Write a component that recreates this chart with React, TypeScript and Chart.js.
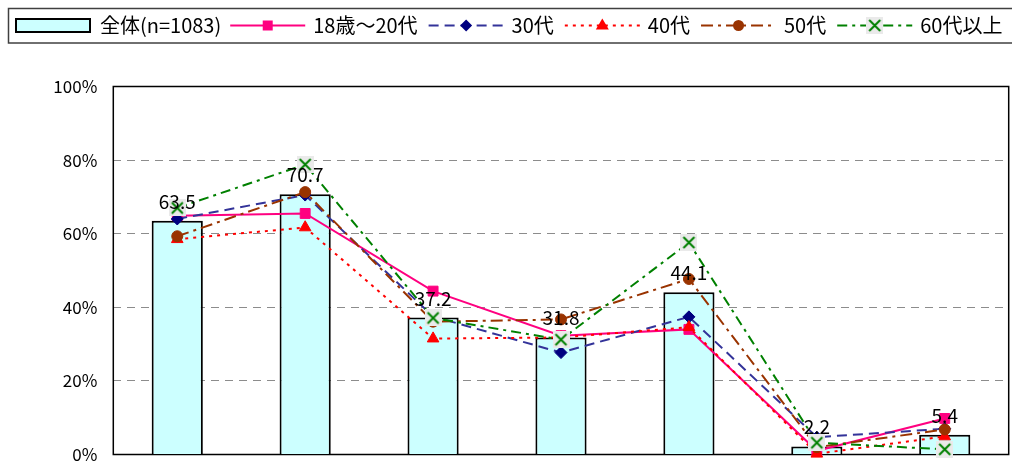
import React, { useEffect, useRef } from 'react';
import { Chart, registerables } from 'chart.js';

Chart.register(...registerables);

// ---- data ----
const categories = ['1', '2', '3', '4', '5', '6', '7'];
const seriesNames = ['全体(n=1083)', '18歳～20代', '30代', '40代', '50代', '60代以上'];
const totalValues = [63.5, 70.7, 37.2, 31.8, 44.1, 2.2, 5.4];
const age18to20s = [64.9, 65.5, 44.4, 32.3, 34.0, 1.0, 9.8];
const age30s = [64.0, 70.5, 37.5, 27.7, 37.4, 4.7, 7.0];
const age40s = [58.5, 61.7, 31.5, 31.8, 34.6, 0.2, 4.9];
const age50s = [59.3, 71.3, 36.1, 36.7, 47.7, 2.0, 6.8];
const age60plus = [67.0, 78.8, 37.1, 31.2, 57.6, 3.2, 1.4];
const yTicks = [0, 20, 40, 60, 80, 100];

const FONT = '"Noto Sans CJK JP", "Noto Sans", sans-serif';
const BAR_FILL = '#CCFFFF';

type LineStyle = {
  color: string;
  dash: number[];
  marker: string;
  markerColor: string;
};

const lineStyles: LineStyle[] = [
  { color: '#FF0080', dash: [], marker: 'rect', markerColor: '#FF0080' },
  { color: '#333399', dash: [10, 6], marker: 'diamond', markerColor: '#000080' },
  { color: '#FF0000', dash: [3, 5], marker: 'triangle', markerColor: '#FF0000' },
  { color: '#993300', dash: [12, 5, 3, 5], marker: 'circle', markerColor: '#993300' },
  { color: '#008000', dash: [10, 5, 3, 5], marker: 'x', markerColor: '#008000' },
];

function makeXImage(): HTMLCanvasElement {
  const c = document.createElement('canvas');
  c.width = 17;
  c.height = 17;
  const g = c.getContext('2d')!;
  g.fillStyle = '#EAEAEA';
  g.fillRect(0, 0, 17, 17);
  g.strokeStyle = '#008000';
  g.lineWidth = 2;
  g.beginPath();
  g.moveTo(3, 3);
  g.lineTo(14, 14);
  g.moveTo(14, 3);
  g.lineTo(3, 14);
  g.stroke();
  return c;
}

function drawMarker(ctx: CanvasRenderingContext2D, kind: string, x: number, y: number, color: string, xImg: HTMLCanvasElement) {
  ctx.save();
  ctx.setLineDash([]);
  ctx.fillStyle = color;
  ctx.strokeStyle = color;
  ctx.beginPath();
  if (kind === 'rect') {
    ctx.rect(x - 5, y - 5, 10, 10);
    ctx.fill();
  } else if (kind === 'diamond') {
    ctx.moveTo(x - 6, y);
    ctx.lineTo(x, y - 6);
    ctx.lineTo(x + 6, y);
    ctx.lineTo(x, y + 6);
    ctx.closePath();
    ctx.fill();
  } else if (kind === 'triangle') {
    ctx.moveTo(x, y - 7);
    ctx.lineTo(x + 6.5, y + 4);
    ctx.lineTo(x - 6.5, y + 4);
    ctx.closePath();
    ctx.fill();
  } else if (kind === 'circle') {
    ctx.arc(x, y, 5.5, 0, Math.PI * 2);
    ctx.fill();
  } else if (kind === 'x') {
    ctx.drawImage(xImg, x - 8.5, y - 8.5);
  }
  ctx.restore();
}

export default function App() {
  const canvasRef = useRef<HTMLCanvasElement | null>(null);

  useEffect(() => {
    const canvas = canvasRef.current;
    if (!canvas) return;
    const xImg = makeXImage();

    const pointStyles: any[] = ['rect', 'rectRot', 'triangle', 'circle', xImg];
    const pointRadii = [7, 6, 6.7, 5.5, 8];
    const lineData = [age18to20s, age30s, age40s, age50s, age60plus];

    const borderPlugin = {
      id: 'plotBorder',
      beforeDatasetsDraw(chart: any) {
        const { ctx, chartArea } = chart;
        ctx.save();
        ctx.strokeStyle = '#000';
        ctx.lineWidth = 1.5;
        ctx.setLineDash([]);
        ctx.strokeRect(chartArea.left, chartArea.top, chartArea.right - chartArea.left, chartArea.bottom - chartArea.top);
        ctx.restore();
      },
    };

    const labelPlugin = {
      id: 'barLabels',
      afterDatasetsDraw(chart: any) {
        const { ctx } = chart;
        const meta = chart.getDatasetMeta(0);
        ctx.save();
        ctx.font = `19px ${FONT}`;
        ctx.fillStyle = '#000';
        ctx.textAlign = 'center';
        ctx.textBaseline = 'alphabetic';
        meta.data.forEach((el: any, i: number) => {
          ctx.fillText(totalValues[i].toFixed(1), el.x, el.y - 12);
        });
        ctx.restore();
      },
    };

    const legendPlugin = {
      id: 'customLegend',
      afterDraw(chart: any) {
        const ctx: CanvasRenderingContext2D = chart.ctx;
        ctx.save();
        ctx.strokeStyle = '#404040';
        ctx.lineWidth = 1.5;
        ctx.strokeRect(8.5, 8.5, 1012, 34.5);
        const cy = 25.5;
        ctx.font = `20px ${FONT}`;
        ctx.textBaseline = 'middle';
        ctx.textAlign = 'left';
        let x = 16;
        ctx.fillStyle = BAR_FILL;
        ctx.fillRect(x, 19, 74, 13);
        ctx.strokeStyle = '#000';
        ctx.lineWidth = 2;
        ctx.strokeRect(x, 19, 74, 13);
        x += 74 + 10;
        ctx.fillStyle = '#000';
        ctx.fillText(seriesNames[0], x, cy);
        x += ctx.measureText(seriesNames[0]).width + 9;
        lineStyles.forEach((st, i) => {
          const w = 75;
          ctx.save();
          ctx.strokeStyle = st.color;
          ctx.lineWidth = 2;
          ctx.setLineDash(st.dash);
          ctx.beginPath();
          ctx.moveTo(x, cy);
          ctx.lineTo(x + w, cy);
          ctx.stroke();
          ctx.restore();
          drawMarker(ctx, st.marker, x + w / 2, cy, st.markerColor, xImg);
          x += w + 8;
          ctx.fillStyle = '#000';
          ctx.fillText(seriesNames[i + 1], x, cy);
          x += ctx.measureText(seriesNames[i + 1]).width + 11;
        });
        ctx.restore();
      },
    };

    const datasets: any[] = [
      {
        type: 'bar',
        label: seriesNames[0],
        data: totalValues,
        backgroundColor: BAR_FILL,
        borderColor: '#000',
        borderWidth: 2,
        barPercentage: 0.4,
        categoryPercentage: 1,
        order: 10,
      },
      ...lineStyles.map((st, i) => ({
        type: 'line',
        label: seriesNames[i + 1],
        data: lineData[i],
        borderColor: st.color,
        borderWidth: 2,
        borderDash: st.dash,
        fill: false,
        tension: 0,
        clip: false,
        pointStyle: pointStyles[i],
        pointRadius: pointRadii[i],
        pointBackgroundColor: st.markerColor,
        pointBorderColor: st.markerColor,
        pointBorderWidth: i === 4 ? 2 : 1,
        order: 5 - i,
      })),
    ];

    const chart = new Chart(canvas, {
      type: 'bar',
      data: { labels: categories, datasets },
      options: {
        responsive: false,
        animation: false,
        layout: { autoPadding: false, padding: { top: 86.5, left: 0, right: 3.3, bottom: 45.5 } },
        plugins: {
          legend: { display: false },
          tooltip: { enabled: false },
          title: { display: false },
        },
        scales: {
          x: {
            display: false,
            offset: true,
          },
          y: {
            min: 0,
            max: 100,
            afterBuildTicks: (scale: any) => {
              scale.ticks = yTicks.map((v) => ({ value: v }));
            },
            afterFit: (scale: any) => {
              scale.width = 113.3;
            },
            ticks: {
              callback: (v: any) => `${v}%`,
              font: { family: FONT, size: 17 },
              color: '#000',
              padding: 16,
            },
            grid: {
              drawTicks: false,
              color: (c: any) =>
                c.tick && (c.tick.value === 0 || c.tick.value === 100) ? 'rgba(0,0,0,0)' : '#8C8C8C',
              lineWidth: 1,
            },
            border: { display: false, dash: [8, 6] },
          },
        },
      },
      plugins: [borderPlugin, labelPlugin, legendPlugin],
    });

    return () => {
      chart.destroy();
    };
  }, []);

  return (
    <div
      style={{
        position: 'fixed',
        left: 0,
        top: 0,
        width: 1012,
        height: 461,
        overflow: 'hidden',
        background: '#fff',
      }}
    >
      <canvas ref={canvasRef} width={1012} height={500} style={{ display: 'block' }} />
    </div>
  );
}
